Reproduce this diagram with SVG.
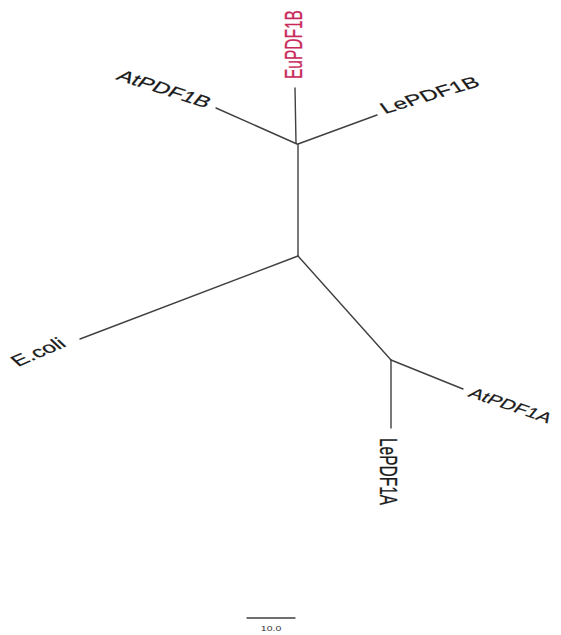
<svg xmlns="http://www.w3.org/2000/svg" width="561" height="635" viewBox="0 0 561 635">
<style>
.br{stroke:#404040;stroke-width:1.4;fill:none;stroke-linecap:round}
.lb{font-family:"Liberation Sans",Arial,sans-serif;font-size:15.5px;fill:#1a1a1a;stroke:#1a1a1a;stroke-width:0.2}
.red{fill:#c8285a;stroke:#c8285a}
.sc{font-family:"Liberation Sans",Arial,sans-serif;font-size:7.5px;fill:#333}
</style>
<rect width="561" height="635" fill="#ffffff"/>
<g id="connectors">
<line class="br" x1="295" y1="88" x2="296" y2="143"/>
<line class="br" x1="216" y1="108" x2="297" y2="144"/>
<line class="br" x1="298" y1="144" x2="377" y2="115"/>
<line class="br" x1="298" y1="144" x2="298" y2="256"/>
<line class="br" x1="298" y1="256" x2="80" y2="339"/>
<line class="br" x1="298" y1="256" x2="391" y2="360"/>
<line class="br" x1="391" y1="360" x2="463" y2="389"/>
<line class="br" x1="391" y1="360" x2="391" y2="428"/>
</g>
<g id="EuPDF1B"><text class="lb red" transform="translate(302,79) scale(1.58,1) rotate(-90)">EuPDF1B</text></g>
<g id="AtPDF1B"><text class="lb" transform="translate(115,79) scale(1.58,1) rotate(27)">AtPDF1B</text></g>
<g id="LePDF1B"><text class="lb" transform="translate(385,114) scale(1.58,1) rotate(-25)">LePDF1B</text></g>
<g id="Ecoli"><text class="lb" transform="translate(18,367) scale(1.58,1) rotate(-34)">E.coli</text></g>
<g id="AtPDF1A"><text class="lb" style="font-size:14px" transform="translate(467,396) scale(1.56,1) rotate(28)">AtPDF1A</text></g>
<g id="LePDF1A"><text class="lb" transform="translate(380,438) scale(1.58,1) rotate(90)">LePDF1A</text></g>
<g id="scale">
<line class="br" x1="247" y1="618" x2="295" y2="618"/>
<text class="sc" text-anchor="middle" transform="translate(271,631) scale(1.4,1)">10.0</text>
</g>
</svg>
